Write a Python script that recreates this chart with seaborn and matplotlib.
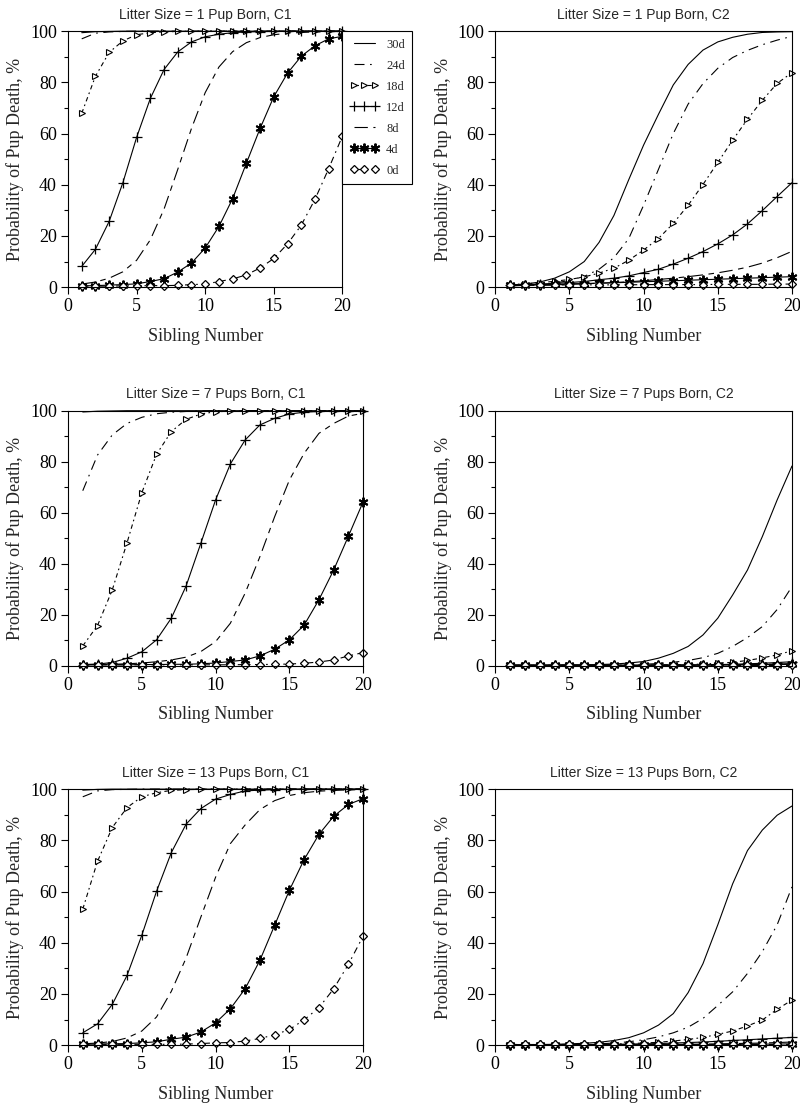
import matplotlib
matplotlib.use("Agg")
import matplotlib.pyplot as plt
import seaborn as sns
from matplotlib.ticker import MultipleLocator

# ==================== style ====================
sns.set_theme(style="ticks", context="paper")
plt.rcParams['font.family'] = ['Liberation Serif', 'DejaVu Serif']
plt.rcParams['axes.edgecolor'] = 'black'
plt.rcParams['axes.linewidth'] = 0.8
plt.rcParams['xtick.color'] = 'black'
plt.rcParams['ytick.color'] = 'black'

SANS = ['Liberation Sans', 'DejaVu Sans']

# ==================== data ====================
SIBLING = [1, 2, 3, 4, 5, 6, 7, 8, 9, 10, 11, 12, 13, 14, 15, 16, 17, 18, 19, 20]
AGES = ['30d', '24d', '18d', '12d', '8d', '4d', '0d']
TITLES = [
    'Litter Size = 1 Pup Born, C1', 'Litter Size = 1 Pup Born, C2',
    'Litter Size = 7 Pups Born, C1', 'Litter Size = 7 Pups Born, C2',
    'Litter Size = 13 Pups Born, C1', 'Litter Size = 13 Pups Born, C2',
]

pup1_c1 = {
    '30d': [99.4, 99.8, 99.9, 100, 100, 100, 100, 100, 100, 100, 100, 100, 100, 100, 100, 100, 100, 100, 100, 100],
    '24d': [97.0, 99.2, 99.7, 99.9, 100, 100, 100, 100, 100, 100, 100, 100, 100, 100, 100, 100, 100, 100, 100, 100],
    '18d': [67.9, 82.4, 91.7, 96.2, 98.6, 99.4, 99.7, 99.9, 100, 100, 100, 100, 100, 100, 100, 100, 100, 100, 100, 100],
    '12d': [8.1, 14.8, 25.7, 40.8, 58.5, 73.7, 85.0, 91.9, 95.8, 97.8, 98.8, 99.4, 99.7, 99.8, 99.9, 100, 100, 100, 100, 100],
    '8d': [1.2, 2.0, 3.5, 6.0, 10.5, 18.5, 30.5, 46.0, 62.0, 76.0, 86.0, 92.0, 95.5, 97.5, 98.6, 99.2, 99.5, 99.7, 99.8, 99.9],
    '4d': [0.5, 0.6, 0.8, 1.0, 1.3, 2.2, 3.3, 5.9, 9.4, 15.3, 23.7, 34.6, 48.4, 62.0, 74.4, 83.6, 90.2, 94.3, 97.0, 98.0],
    '0d': [0.4, 0.4, 0.4, 0.5, 0.5, 0.6, 0.6, 0.7, 1.0, 1.2, 2.2, 3.2, 4.8, 7.5, 11.2, 16.9, 24.2, 34.3, 46.3, 59.0],
}

pup1_c2 = {
    '30d': [0.8, 1.2, 2.0, 3.5, 6.0, 10.0, 17.5, 28.0, 42.0, 55.5, 67.5, 79.0, 87.0, 92.6, 95.8, 97.6, 98.8, 99.5, 99.7, 99.8],
    '24d': [0.5, 0.7, 1.0, 1.6, 2.6, 4.2, 7.0, 11.5, 19.0, 32.0, 46.0, 60.0, 71.5, 79.5, 85.5, 89.7, 92.5, 94.7, 96.5, 98.0],
    '18d': [1.0, 1.3, 1.7, 2.3, 3.0, 4.0, 5.5, 7.4, 10.5, 14.5, 19.0, 24.9, 32.0, 40.1, 48.7, 57.4, 65.6, 73.0, 79.6, 83.8],
    '12d': [0.8, 1.0, 1.2, 1.5, 1.8, 2.2, 2.9, 3.5, 4.4, 5.7, 7.0, 9.0, 11.3, 13.9, 16.9, 20.4, 24.7, 29.9, 35.4, 40.8],
    '8d': [0.6, 0.7, 0.8, 0.9, 1.1, 1.3, 1.5, 1.8, 2.1, 2.5, 3.0, 3.5, 4.1, 4.8, 5.6, 6.6, 7.8, 9.4, 11.5, 14.0],
    '4d': [0.8, 0.9, 1.0, 1.1, 1.3, 1.4, 1.6, 1.7, 1.9, 2.1, 2.3, 2.5, 2.7, 2.9, 3.1, 3.3, 3.5, 3.7, 3.9, 4.1],
    '0d': [0.8, 0.8, 0.8, 0.8, 0.9, 0.9, 0.9, 0.9, 0.9, 1.0, 1.0, 1.0, 1.0, 1.0, 1.1, 1.1, 1.1, 1.1, 1.2, 1.2],
}

pup7_c1 = {
    '30d': [99.5, 99.8, 99.9, 100, 100, 100, 100, 100, 100, 100, 100, 100, 100, 100, 100, 100, 100, 100, 100, 100],
    '24d': [68.6, 82.6, 90.5, 95.0, 97.4, 98.8, 99.4, 99.7, 99.9, 100, 100, 100, 100, 100, 100, 100, 100, 100, 100, 100],
    '18d': [7.7, 15.7, 29.7, 48.2, 67.8, 82.9, 91.8, 96.6, 98.7, 99.6, 99.8, 99.9, 100, 100, 100, 100, 100, 100, 100, 100],
    '12d': [0.4, 0.6, 1.2, 2.9, 5.4, 10.1, 18.6, 31.2, 48.0, 65.0, 79.1, 88.5, 94.4, 97.0, 98.7, 99.4, 99.7, 99.8, 99.9, 100],
    '8d': [0.3, 0.4, 0.5, 0.7, 1.0, 1.5, 2.2, 3.3, 5.5, 9.4, 16.6, 28.4, 42.7, 58.4, 72.8, 83.3, 91.1, 95.0, 97.9, 99.0],
    '4d': [0.3, 0.3, 0.3, 0.3, 0.4, 0.4, 0.5, 0.5, 0.7, 1.0, 1.6, 2.2, 3.8, 6.4, 10.1, 15.9, 25.8, 37.5, 50.8, 64.3],
    '0d': [0.3, 0.3, 0.3, 0.3, 0.3, 0.3, 0.3, 0.3, 0.3, 0.3, 0.3, 0.4, 0.4, 0.5, 0.6, 0.9, 1.4, 2.2, 3.8, 5.1],
}

pup7_c2 = {
    '30d': [0.2, 0.2, 0.2, 0.2, 0.3, 0.3, 0.4, 0.6, 1.0, 1.6, 2.9, 4.8, 7.5, 12.0, 18.6, 27.7, 37.5, 50.6, 65.0, 78.3],
    '24d': [0.1, 0.1, 0.1, 0.1, 0.1, 0.1, 0.2, 0.2, 0.3, 0.5, 0.8, 1.3, 2.0, 3.1, 4.8, 7.5, 11.0, 15.3, 22.0, 31.0],
    '18d': [0.1, 0.1, 0.1, 0.1, 0.1, 0.1, 0.1, 0.1, 0.2, 0.2, 0.3, 0.3, 0.4, 0.6, 0.9, 1.3, 2.0, 3.0, 4.2, 5.8],
    '12d': [0.1, 0.1, 0.1, 0.1, 0.1, 0.1, 0.1, 0.1, 0.1, 0.1, 0.2, 0.2, 0.2, 0.3, 0.4, 0.5, 0.7, 0.9, 1.2, 1.5],
    '8d': [0.1, 0.1, 0.1, 0.1, 0.1, 0.1, 0.1, 0.1, 0.1, 0.1, 0.1, 0.2, 0.2, 0.2, 0.3, 0.3, 0.4, 0.5, 0.6, 0.8],
    '4d': [0.1, 0.1, 0.1, 0.1, 0.1, 0.1, 0.1, 0.1, 0.1, 0.1, 0.1, 0.1, 0.2, 0.2, 0.2, 0.3, 0.3, 0.4, 0.4, 0.5],
    '0d': [0.3, 0.3, 0.3, 0.3, 0.3, 0.3, 0.3, 0.3, 0.3, 0.3, 0.3, 0.3, 0.3, 0.3, 0.3, 0.3, 0.3, 0.3, 0.3, 0.3],
}

pup13_c1 = {
    '30d': [99.6, 99.9, 100, 100, 100, 100, 100, 100, 100, 100, 100, 100, 100, 100, 100, 100, 100, 100, 100, 100],
    '24d': [97.0, 99.3, 99.8, 99.9, 100, 100, 100, 100, 100, 100, 100, 100, 100, 100, 100, 100, 100, 100, 100, 100],
    '18d': [53.1, 71.8, 85.0, 92.8, 97.0, 98.6, 99.5, 99.8, 99.9, 100, 100, 100, 100, 100, 100, 100, 100, 100, 100, 100],
    '12d': [4.8, 8.3, 15.9, 27.2, 42.9, 60.1, 75.2, 86.3, 92.4, 96.1, 97.9, 99.3, 99.6, 99.8, 99.9, 100, 100, 100, 100, 100],
    '8d': [0.5, 0.8, 1.4, 2.8, 5.5, 11.0, 21.0, 34.0, 50.0, 65.6, 78.7, 86.0, 92.0, 95.5, 97.5, 98.6, 99.2, 99.5, 99.7, 99.8],
    '4d': [0.3, 0.4, 0.5, 0.6, 0.9, 1.3, 2.3, 3.1, 5.1, 8.7, 14.2, 22.0, 33.1, 46.8, 60.5, 72.5, 82.3, 89.4, 94.0, 96.3],
    '0d': [0.3, 0.3, 0.3, 0.3, 0.3, 0.3, 0.3, 0.4, 0.6, 0.9, 1.0, 1.6, 2.6, 4.0, 6.1, 9.9, 14.6, 22.0, 31.6, 42.6],
}

pup13_c2 = {
    '30d': [0.2, 0.2, 0.2, 0.3, 0.5, 0.7, 1.1, 1.8, 2.9, 4.8, 7.8, 12.3, 20.5, 31.8, 47.0, 63.0, 76.0, 84.0, 89.8, 93.4],
    '24d': [0.1, 0.1, 0.1, 0.1, 0.2, 0.3, 0.5, 0.8, 1.3, 2.1, 3.2, 4.8, 7.0, 10.4, 15.5, 20.8, 28.0, 36.5, 47.0, 61.8],
    '18d': [0.1, 0.1, 0.1, 0.1, 0.2, 0.2, 0.3, 0.4, 0.6, 0.8, 1.1, 1.6, 2.2, 3.0, 4.2, 5.5, 7.5, 9.8, 14.0, 17.6],
    '12d': [0.1, 0.1, 0.1, 0.1, 0.1, 0.2, 0.2, 0.3, 0.4, 0.5, 0.6, 0.8, 1.0, 1.2, 1.5, 1.8, 2.1, 2.4, 2.7, 3.0],
    '8d': [0.1, 0.1, 0.1, 0.1, 0.1, 0.1, 0.1, 0.1, 0.2, 0.2, 0.2, 0.3, 0.3, 0.4, 0.5, 0.6, 0.7, 0.8, 1.0, 1.2],
    '4d': [0.1, 0.1, 0.1, 0.1, 0.1, 0.1, 0.1, 0.1, 0.1, 0.1, 0.1, 0.2, 0.2, 0.2, 0.2, 0.3, 0.3, 0.4, 0.4, 0.5],
    '0d': [0.3, 0.3, 0.3, 0.3, 0.3, 0.3, 0.3, 0.3, 0.3, 0.3, 0.3, 0.3, 0.3, 0.3, 0.3, 0.3, 0.3, 0.3, 0.3, 0.3],
}

PANELS = [pup1_c1, pup1_c2, pup7_c1, pup7_c2, pup13_c1, pup13_c2]

# line look for each age group
LINE_STYLE = {
    '30d': dict(linestyle='-', marker=None),
    '24d': dict(linestyle=(0, (9, 5, 1.5, 5)), marker=None),
    '18d': dict(linestyle=(0, (4, 3, 1.5, 3)), marker='>', markersize=4.5,
                markerfacecolor='white', markeredgewidth=0.8),
    '12d': dict(linestyle='-', marker='+', markersize=7, markeredgewidth=0.9),
    '8d': dict(linestyle=(0, (12, 5, 5, 5)), marker=None),
    '4d': dict(linestyle='-', marker=(6, 2, 0), markersize=7, markeredgewidth=1.4),
    '0d': dict(linestyle=(0, (6, 4, 1.5, 4)), marker='D', markersize=4.5,
               markerfacecolor='white', markeredgewidth=0.9),
}

# axes rectangles in figure fraction (800 x 1113 px)
RECTS = [
    [0.085, 0.742, 0.343, 0.230], [0.619, 0.742, 0.371, 0.230],
    [0.085, 0.402, 0.369, 0.229], [0.619, 0.402, 0.371, 0.229],
    [0.085, 0.061, 0.369, 0.230], [0.619, 0.061, 0.371, 0.230],
]

fig = plt.figure(figsize=(8.0, 11.13), dpi=100)

for i, (data, title, rect) in enumerate(zip(PANELS, TITLES, RECTS)):
    ax = fig.add_axes(rect)
    for age in AGES:
        sns.lineplot(x=SIBLING, y=data[age], ax=ax, color='black', linewidth=0.8,
                     markeredgecolor='black', errorbar=None, label=age,
                     legend=False, clip_on=False, **LINE_STYLE[age])

    ax.set_xlim(0, 20)
    ax.set_ylim(0, 100)
    ax.xaxis.set_major_locator(MultipleLocator(5))
    ax.yaxis.set_major_locator(MultipleLocator(20))
    ax.yaxis.set_minor_locator(MultipleLocator(10))
    ax.tick_params(axis='both', which='major', direction='out', length=5, width=0.8,
                   labelsize=13, pad=3)
    ax.tick_params(axis='y', which='minor', direction='out', length=3, width=0.8)
    for s in ax.spines.values():
        s.set_visible(True)
        s.set_color('black')
        s.set_linewidth(0.8)

    ax.set_title(title, fontsize=10, family=SANS, pad=9)
    ax.set_xlabel('Sibling Number', fontsize=13, labelpad=9)
    ax.set_ylabel('Probability of Pup Death, %', fontsize=13, labelpad=4)

    # legend only on the first panel, hanging off its right edge
    if i == 0:
        handles, labels = ax.get_legend_handles_labels()
        leg = ax.legend(handles, labels, loc='upper left', bbox_to_anchor=(1.0, 1.0),
                        borderaxespad=0, fontsize=9, frameon=True, fancybox=False,
                        edgecolor='black', framealpha=1, numpoints=3,
                        handlelength=2.3, handletextpad=0.6, labelspacing=0.72,
                        borderpad=0.6)
        leg.get_frame().set_linewidth(0.8)

fig.savefig('out.png', dpi=100)
